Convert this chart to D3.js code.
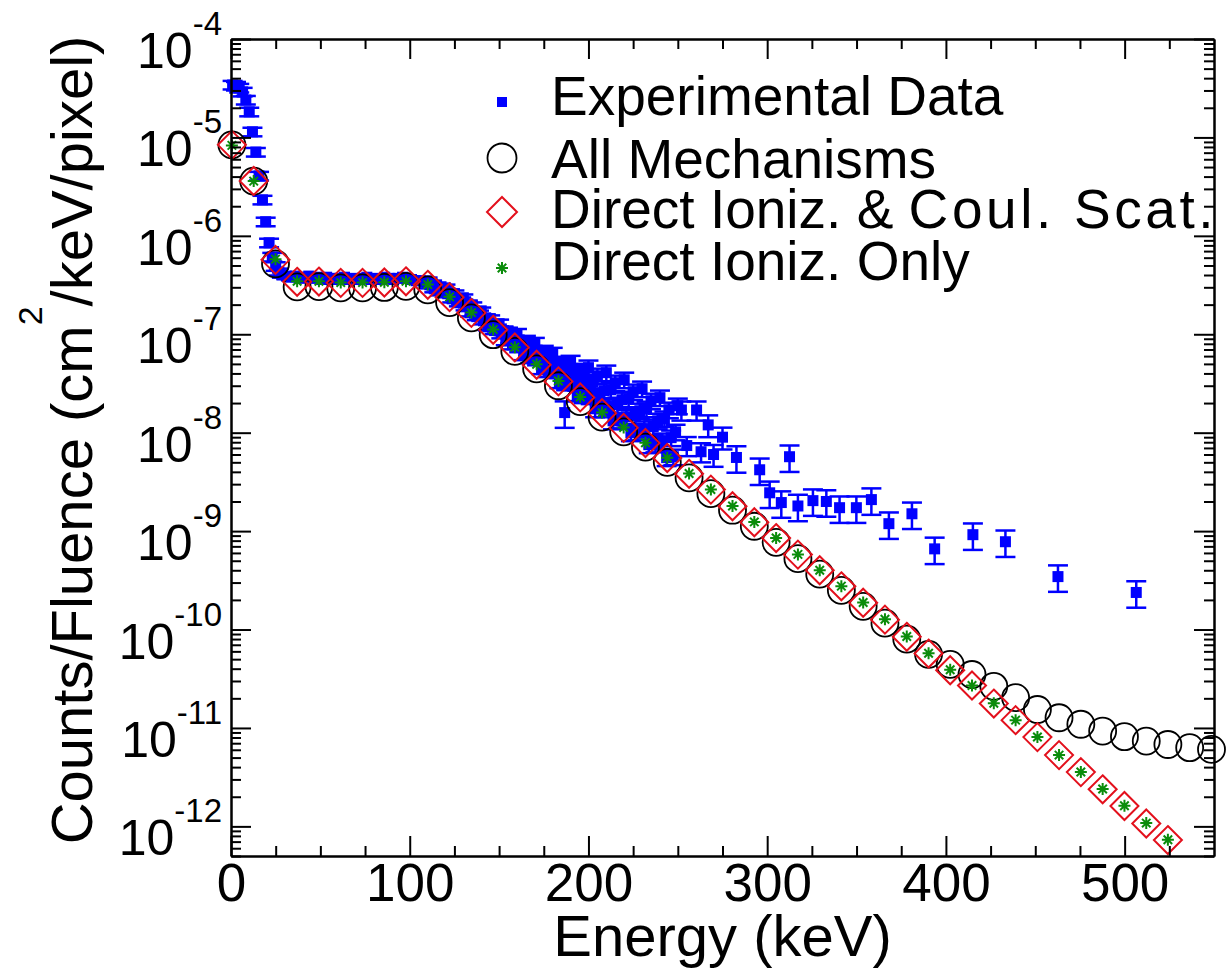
<!DOCTYPE html>
<html><head><meta charset="utf-8">
<script src="https://cdn.jsdelivr.net/npm/d3@7"></script>
<style>
body{margin:0;background:#fff}
svg{display:block}
text{font-family:"Liberation Sans",Arial,Helvetica,sans-serif;fill:#000}
</style>
</head><body>
<svg id="chart" width="1226" height="972"></svg>
<script>
// ---------------- data ----------------
const xTickLabels = [0, 100, 200, 300, 400, 500];
const xMinorTicks = [25, 50, 75, 125, 150, 175, 225, 250, 275, 325, 350, 375, 425, 450, 475, 525];
const yDecades = [1e-4, 1e-5, 1e-6, 1e-7, 1e-8, 1e-9, 1e-10, 1e-11, 1e-12];
const yExponents = ["-4", "-5", "-6", "-7", "-8", "-9", "-10", "-11", "-12"];
const legendLabels = ["Experimental Data", "All Mechanisms", "Direct Ioniz. & Coul. Scat.", "Direct Ioniz. Only"];

// experimental data: energy (keV), counts/fluence, relative error
const expEnergy = [
  0.9, 2.8, 4.6, 6.5, 8.3, 10.2, 12.0, 13.9, 15.7, 17.6, 19.4, 21.3, 23.1, 25.0, 26.8,
  28.5, 31, 33.5, 36, 38.5, 41, 43.5, 46, 48.5, 51, 53.5, 56, 58.5, 61, 63.5, 66, 68.5, 71, 73.5, 76,
  78.5, 81, 83.5, 86, 88.5, 91, 93.5, 96, 98.5, 101, 103.5, 106, 108.5,
  110, 111.25, 112.5, 113.75, 115, 116.25, 117.5, 118.75, 120, 121.25, 122.5, 123.75, 125, 126.25, 127.5, 128.75,
  130, 131.25, 132.5, 133.75, 135, 136.25, 137.5, 138.75, 140, 141.25, 142.5, 143.75, 145, 146.25, 147.5, 148.75,
  150, 151.25, 152.5, 153.75, 155, 156.25, 157.5, 158.75, 160, 161.25, 162.5, 163.75, 165, 166.25, 167.5, 168.75,
  170, 171.25, 172.5, 173.75, 175, 176.25, 177.5, 178.75, 180, 181.25, 182.5, 183.75, 185, 186.25, 186.7, 187.5, 188.75,
  190, 191.25, 192.5, 193.75, 195, 196.25, 197.5, 198.75, 200, 201.25, 202.5, 203.75, 205, 206.25, 207.5, 208.75,
  210, 211.25, 212.5, 213.75, 215, 216.25, 217.5, 218.75, 220, 221.25, 222.5, 223.75, 225, 226.25, 227.5, 228.75,
  230, 231.25, 232.5, 233.75, 235, 236.25, 237.5, 238.75, 240, 241.25, 242.5, 243.75, 245, 246.25, 247.5, 248.75, 250,
  252, 255, 260.5, 263, 267, 270, 275,
  282.8, 295.8, 301.4, 307.9, 312.5, 317.2, 325.6, 333.1, 340.5, 349.9, 358.3, 368.1, 381.0, 393.7,
  415.1, 433.3, 462.7, 506.5
];
const expValue = [
  3.41e-5, 3.33e-5, 3.18e-5, 2.9e-5, 2.4e-5, 1.82e-5, 1.14e-5, 7.1e-6, 4.06e-6, 2.32e-6, 1.39e-6, 8.5e-7, 6.1e-7, 4.9e-7, 4.3e-7,
  4.0e-7, 3.9e-7, 3.8e-7, 3.9e-7, 3.7e-7, 3.8e-7, 3.9e-7, 3.7e-7, 3.8e-7, 3.6e-7, 3.8e-7, 3.7e-7, 3.6e-7, 3.7e-7, 3.8e-7, 3.6e-7, 3.7e-7, 3.6e-7, 3.7e-7, 3.8e-7,
  3.6e-7, 3.7e-7, 3.6e-7, 3.8e-7, 3.7e-7, 3.6e-7, 3.7e-7, 3.8e-7, 3.7e-7, 3.6e-7, 3.5e-7, 3.5e-7, 3.4e-7,
  3.49e-7, 3.18e-7, 3.25e-7, 2.90e-7, 3.11e-7, 2.90e-7, 2.70e-7, 2.83e-7, 2.96e-7, 2.58e-7, 2.64e-7, 2.29e-7, 2.58e-7, 2.29e-7, 2.09e-7, 2.19e-7,
  2.35e-7, 1.90e-7, 2.04e-7, 1.65e-7, 1.95e-7, 1.69e-7, 1.51e-7, 1.61e-7, 1.73e-7, 1.37e-7, 1.47e-7, 1.19e-7, 1.44e-7, 1.22e-7, 1.09e-7, 1.16e-7,
  1.28e-7, 1.01e-7, 1.09e-7, 8.6e-8, 1.06e-7, 9.02e-8, 7.8e-8, 8.8e-8, 1.01e-7, 7.47e-8, 8.4e-8, 6.2e-8, 8.6e-8, 6.81e-8, 5.78e-8, 6.81e-8,
  8.2e-8, 5.5e-8, 6.5e-8, 4.47e-8, 6.81e-8, 5.15e-8, 4.17e-8, 5.15e-8, 6.5e-8, 4.07e-8, 5.03e-8, 3.22e-8, 5.27e-8, 3.88e-8, 1.6e-8, 3.07e-8, 4.07e-8,
  5.39e-8, 3.07e-8, 3.98e-8, 2.38e-8, 4.47e-8, 3.0e-8, 2.27e-8, 3.22e-8, 4.58e-8, 2.38e-8, 3.3e-8, 1.75e-8, 3.79e-8, 2.38e-8, 1.75e-8, 2.67e-8,
  4.07e-8, 1.84e-8, 2.73e-8, 1.32e-8, 3.22e-8, 1.92e-8, 1.35e-8, 2.16e-8, 3.45e-8, 1.45e-8, 2.21e-8, 1.0e-8, 2.61e-8, 1.49e-8, 1.02e-8, 1.67e-8,
  2.8e-8, 1.1e-8, 1.75e-8, 7.55e-9, 2.11e-8, 1.15e-8, 7.7e-9, 1.32e-8, 2.27e-8, 8.3e-9, 1.39e-8, 5.58e-9, 1.71e-8, 8.9e-9, 5.7e-9, 1.02e-8, 1.88e-8,
  1.7e-8, 7.4e-9, 1.7e-8, 6.4e-9, 1.2e-8, 6.0e-9, 9.0e-9,
  5.6e-9, 4.2e-9, 2.45e-9, 1.95e-9, 5.7e-9, 1.8e-9, 2.04e-9, 2.0e-9, 1.73e-9, 1.73e-9, 2.09e-9, 1.19e-9, 1.5e-9, 6.6e-10,
  9.2e-10, 7.8e-10, 3.45e-10, 2.38e-10
];
const expRelErr = [
  0.1, 0.1, 0.1, 0.1, 0.1, 0.1, 0.1, 0.1, 0.1, 0.1, 0.1, 0.1, 0.1, 0.1, 0.08,
  0.06, 0.06, 0.06, 0.06, 0.06, 0.06, 0.06, 0.06, 0.06, 0.06, 0.06, 0.06, 0.06, 0.06, 0.06, 0.06, 0.06, 0.06, 0.06, 0.06,
  0.06, 0.06, 0.06, 0.06, 0.06, 0.06, 0.06, 0.06, 0.06, 0.06, 0.06, 0.06, 0.06,
  0.08, 0.08, 0.08, 0.08, 0.08, 0.08, 0.08, 0.08, 0.08, 0.08, 0.08, 0.08, 0.08, 0.08, 0.08, 0.08,
  0.08, 0.08, 0.08, 0.08, 0.08, 0.08, 0.08, 0.08, 0.08, 0.08, 0.08, 0.08, 0.08, 0.08, 0.08, 0.08,
  0.1, 0.1, 0.1, 0.1, 0.1, 0.1, 0.1, 0.1, 0.12, 0.12, 0.12, 0.12, 0.12, 0.12, 0.12, 0.12,
  0.12, 0.12, 0.12, 0.12, 0.12, 0.12, 0.12, 0.12, 0.12, 0.12, 0.12, 0.12, 0.12, 0.12, 0.3, 0.12, 0.12,
  0.12, 0.12, 0.12, 0.12, 0.12, 0.12, 0.12, 0.12, 0.18, 0.18, 0.18, 0.18, 0.18, 0.18, 0.18, 0.18,
  0.18, 0.18, 0.18, 0.18, 0.18, 0.18, 0.18, 0.18, 0.18, 0.18, 0.18, 0.18, 0.18, 0.18, 0.18, 0.18,
  0.18, 0.18, 0.18, 0.18, 0.18, 0.18, 0.18, 0.18, 0.18, 0.18, 0.18, 0.18, 0.18, 0.18, 0.18, 0.18, 0.18,
  0.22, 0.22, 0.22, 0.22, 0.25, 0.25, 0.25,
  0.3, 0.3, 0.3, 0.3, 0.3, 0.3, 0.3, 0.3, 0.3, 0.3, 0.3, 0.3, 0.3, 0.3,
  0.3, 0.3, 0.3, 0.3
];

// simulations
const simEnergy = [
  0.5, 12.7, 24.9, 37.0, 49.2, 61.4, 73.6, 85.8, 97.9, 110.1, 122.3, 134.5, 146.7, 158.8, 171.0, 183.2,
  195.4, 207.6, 219.7, 231.9, 244.1, 256.3, 268.5, 280.6, 292.8, 305.0, 317.2, 329.4, 341.5, 353.7,
  365.9, 378.1, 390.3, 402.4, 414.6, 426.8, 439.0, 451.2, 463.3, 475.5, 487.7, 499.9, 512.1, 524.2,
  536.4, 548.6
];
const allMechanisms = [
  8.4e-6, 3.6e-6, 5.2e-7, 3.03e-7, 3.05e-7, 2.96e-7, 2.96e-7, 2.99e-7, 3.07e-7, 2.83e-7, 2.1e-7, 1.47e-7,
  9.9e-8, 6.7e-8, 4.45e-8, 3.0e-8, 2.07e-8, 1.44e-8, 1.02e-8, 7.15e-9, 5.0e-9, 3.48e-9, 2.4e-9, 1.63e-9,
  1.12e-9, 7.7e-10, 5.25e-10, 3.65e-10, 2.5e-10, 1.72e-10, 1.16e-10, 8.0e-11, 5.6e-11, 4.42e-11, 3.49e-11,
  2.65e-11, 2.03e-11, 1.54e-11, 1.27e-11, 1.09e-11, 9.3e-12, 8.15e-12, 7.35e-12, 6.79e-12, 6.3e-12, 6.05e-12
];
const ionizCoulomb = [
  8.4e-6, 3.61e-6, 5.7e-7, 3.41e-7, 3.43e-7, 3.33e-7, 3.33e-7, 3.36e-7, 3.45e-7, 3.18e-7, 2.38e-7, 1.65e-7,
  1.11e-7, 7.35e-8, 4.9e-8, 3.32e-8, 2.28e-8, 1.58e-8, 1.12e-8, 7.85e-9, 5.53e-9, 3.82e-9, 2.64e-9, 1.79e-9,
  1.23e-9, 8.5e-10, 5.77e-10, 4.0e-10, 2.75e-10, 1.87e-10, 1.26e-10, 8.43e-11, 5.7e-11, 3.86e-11, 2.7e-11,
  1.77e-11, 1.2e-11, 8.07e-12, 5.3e-12, 3.56e-12, 2.38e-12, 1.61e-12, 1.07e-12, 7.26e-13
];
const ionizOnly = [
  8.3e-6, 3.6e-6, 5.8e-7, 3.45e-7, 3.45e-7, 3.35e-7, 3.35e-7, 3.38e-7, 3.45e-7, 3.2e-7, 2.4e-7, 1.66e-7,
  1.12e-7, 7.4e-8, 4.95e-8, 3.35e-8, 2.3e-8, 1.6e-8, 1.13e-8, 7.9e-9, 5.55e-9, 3.85e-9, 2.65e-9, 1.8e-9,
  1.24e-9, 8.5e-10, 5.8e-10, 4.0e-10, 2.76e-10, 1.88e-10, 1.27e-10, 8.5e-11, 5.75e-11, 3.9e-11, 2.7e-11,
  1.78e-11, 1.2e-11, 8.1e-12, 5.3e-12, 3.57e-12, 2.4e-12, 1.62e-12, 1.08e-12, 7.3e-13
];

// ---------------- chart ----------------
const svg = d3.select("#chart");
const P = {l: 231, r: 1214, t: 39, b: 856};
const x = d3.scaleLinear().domain([0, 550]).range([P.l, P.r]);
const y = d3.scaleLog().domain([1e-4, 5e-13]).range([P.t, P.b]);

const BLUE = "#0000ff", RED = "#e3101c", GREEN = "#0b8c0b";

// experimental data
const exp = expEnergy.map((e, i) => ({e, v: expValue[i], err: expValue[i] * expRelErr[i]}));
const gExp = svg.append("g");
const capW = 10;
exp.forEach(d => {
  const cx = x(d.e), yt = y(d.v + d.err), yb = y(d.v - d.err);
  gExp.append("line").attr("x1", cx).attr("x2", cx).attr("y1", yt).attr("y2", yb)
    .attr("stroke", BLUE).attr("stroke-width", 2.5);
  gExp.append("line").attr("x1", cx - capW).attr("x2", cx + capW).attr("y1", yt).attr("y2", yt)
    .attr("stroke", BLUE).attr("stroke-width", 2.5);
  gExp.append("line").attr("x1", cx - capW).attr("x2", cx + capW).attr("y1", yb).attr("y2", yb)
    .attr("stroke", BLUE).attr("stroke-width", 2.5);
});
gExp.selectAll("rect").data(exp).join("rect")
  .attr("x", d => x(d.e) - 5.5).attr("y", d => y(d.v) - 5.5)
  .attr("width", 11).attr("height", 11).attr("fill", BLUE);

// All mechanisms circles
svg.append("g").selectAll("circle").data(allMechanisms).join("circle")
  .attr("cx", (d, i) => x(simEnergy[i])).attr("cy", d => y(d)).attr("r", 13.5)
  .attr("fill", "none").attr("stroke", "#000").attr("stroke-width", 1.8);

// diamonds
const diamond = h => `M0,${-h}L${h},0L0,${h}L${-h},0Z`;
svg.append("g").selectAll("path").data(ionizCoulomb).join("path")
  .attr("d", diamond(14))
  .attr("transform", (d, i) => `translate(${x(simEnergy[i])},${y(d)})`)
  .attr("fill", "none").attr("stroke", RED).attr("stroke-width", 2);

// asterisks
const star = s => { const k = s * 0.7071; return `M${-s},0L${s},0M0,${-s}L0,${s}M${-k},${-k}L${k},${k}M${-k},${k}L${k},${-k}`; };
svg.append("g").selectAll("path").data(ionizOnly).join("path")
  .attr("d", star(6))
  .attr("transform", (d, i) => `translate(${x(simEnergy[i])},${y(d)})`)
  .attr("fill", "none").attr("stroke", GREEN).attr("stroke-width", 2);

// ---------------- axes ----------------
const yMinor = y.ticks().filter(v => !yDecades.some(d => Math.abs(d - v) / d < 1e-6));
function styleAxis(g) {
  g.selectAll("path.domain").attr("stroke", "#000").attr("stroke-width", 2);
  g.selectAll(".tick line").attr("stroke", "#000").attr("stroke-width", 2);
}
const gb = svg.append("g").attr("transform", `translate(0,${P.b})`)
  .call(d3.axisBottom(x).tickValues(xTickLabels).tickSize(-20).tickSizeOuter(0).tickPadding(7).tickFormat(d3.format("d")));
gb.selectAll("text").style("font-size", "53px").attr("fill", "#000");
styleAxis(gb);
const gbm = svg.append("g").attr("transform", `translate(0,${P.b})`)
  .call(d3.axisBottom(x).tickValues(xMinorTicks).tickSize(-10).tickSizeOuter(0).tickFormat(""));
styleAxis(gbm);
const gt = svg.append("g").attr("transform", `translate(0,${P.t})`)
  .call(d3.axisTop(x).tickValues(xTickLabels).tickSize(-20).tickSizeOuter(0).tickFormat(""));
styleAxis(gt);
const gtm = svg.append("g").attr("transform", `translate(0,${P.t})`)
  .call(d3.axisTop(x).tickValues(xMinorTicks).tickSize(-10).tickSizeOuter(0).tickFormat(""));
styleAxis(gtm);
const gl = svg.append("g").attr("transform", `translate(${P.l},0)`)
  .call(d3.axisLeft(y).tickValues(yDecades).tickSize(-20).tickSizeOuter(0).tickFormat(""));
styleAxis(gl);
const glm = svg.append("g").attr("transform", `translate(${P.l},0)`)
  .call(d3.axisLeft(y).tickValues(yMinor).tickSize(-10).tickSizeOuter(0).tickFormat(""));
styleAxis(glm);
const gr = svg.append("g").attr("transform", `translate(${P.r},0)`)
  .call(d3.axisRight(y).tickValues(yDecades).tickSize(-20).tickSizeOuter(0).tickFormat(""));
styleAxis(gr);
const grm = svg.append("g").attr("transform", `translate(${P.r},0)`)
  .call(d3.axisRight(y).tickValues(yMinor).tickSize(-10).tickSizeOuter(0).tickFormat(""));
styleAxis(grm);

// y tick labels 10^n
const gyl = svg.append("g");
yDecades.forEach((v, i) => {
  gyl.append("text").attr("x", 222).attr("y", y(v) + 29).attr("text-anchor", "end")
    .style("font-size", "50px").text("10")
    .append("tspan").attr("dy", -33).style("font-size", "33px").text(yExponents[i]);
});

// axis titles
svg.append("text").attr("x", (P.l + P.r) / 2).attr("y", 956).attr("text-anchor", "middle")
  .style("font-size", "58px").text("Energy (keV)");
const yt = svg.append("text").attr("transform", "translate(92,440) rotate(-90)")
  .attr("text-anchor", "middle").style("font-size", "58px");
yt.append("tspan").text("Counts/Fluence (cm");
yt.append("tspan").attr("dy", -50).style("font-size", "34px").text("2");
yt.append("tspan").attr("dy", 50).text("/keV/pixel)");

// ---------------- legend ----------------
const lg = svg.append("g");
const legY = [102, 158, 212, 268];
const legBase = [115, 178, 228, 280];
legendLabels.forEach((t, i) => {
  const tx = lg.append("text").attr("x", 551).attr("y", legBase[i]).style("font-size", "55px");
  const cut = t.indexOf("Coul.");
  if (cut > 0) {
    tx.append("tspan").text(t.slice(0, cut));
    tx.append("tspan").style("letter-spacing", "3.6px").text(t.slice(cut));
  } else {
    tx.text(t);
  }
});
lg.append("rect").attr("x", 497).attr("y", legY[0] - 5).attr("width", 10).attr("height", 10).attr("fill", BLUE);
lg.append("circle").attr("cx", 502).attr("cy", legY[1]).attr("r", 14.5).attr("fill", "none").attr("stroke", "#000").attr("stroke-width", 1.8);
lg.append("path").attr("d", diamond(15)).attr("transform", `translate(502,${legY[2]})`).attr("fill", "none").attr("stroke", RED).attr("stroke-width", 2);
lg.append("path").attr("d", star(6)).attr("transform", `translate(502,${legY[3]})`).attr("fill", "none").attr("stroke", GREEN).attr("stroke-width", 2);
</script>
</body></html>
